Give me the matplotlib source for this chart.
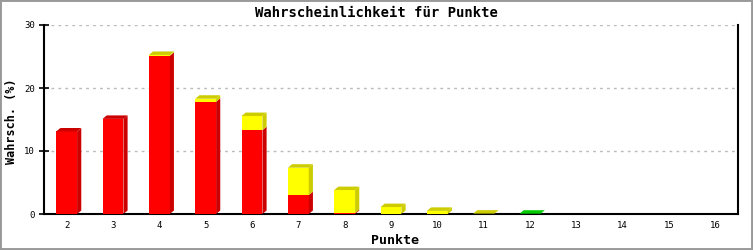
import numpy as np
import matplotlib
matplotlib.use('Agg')
import matplotlib.pyplot as plt
from matplotlib.patches import Polygon, Rectangle

# data
punkte = [2, 3, 4, 5, 6, 7, 8, 9, 10, 11, 12, 13, 14, 15, 16]
rot = [13.1, 15.1, 25.1, 17.8, 13.3, 3.0, 0.15, 0, 0, 0, 0, 0, 0, 0, 0]
gelb = [0, 0, 0.15, 0.5, 2.25, 4.35, 3.65, 1.1, 0.5, 0.06, 0, 0, 0, 0, 0]
gruen = [0, 0, 0, 0, 0, 0, 0, 0, 0, 0, 0.05, 0, 0, 0, 0]

serien = [(rot, '#ff0000', '#cc0000'),
          (gelb, '#ffff00', '#cccc00'),
          (gruen, '#00cc00', '#00cc00')]

mono = 'DejaVu Sans Mono'
fig = plt.figure(figsize=(7.53, 2.5), dpi=100)
ax = fig.add_axes([43.5/753, 36/250, 695/753, 189/250])

breite = 0.45
dx = 0.09   # depth to the right (data units)
dy = 0.55   # depth upward (data units)

x = np.array(punkte, dtype=float)
unten = np.zeros(len(x))
oben_farbe = [None] * len(x)
for werte, farbe, dunkel in serien:
    werte = np.array(werte, dtype=float)
    ax.bar(x, werte, breite, bottom=unten, color=farbe, linewidth=0, zorder=3)
    for i in range(len(x)):
        if werte[i] <= 0:
            continue
        x1 = x[i] + breite / 2
        y0 = unten[i]
        y1 = unten[i] + werte[i]
        ax.add_patch(Polygon([(x1, y0), (x1 + dx, y0 + dy), (x1 + dx, y1 + dy), (x1, y1)],
                             closed=True, facecolor=dunkel, edgecolor='none', zorder=3))
        oben_farbe[i] = dunkel
    unten = unten + werte

for i in range(len(x)):
    if oben_farbe[i] is None:
        continue
    x0 = x[i] - breite / 2
    x1 = x[i] + breite / 2
    y1 = unten[i]
    ax.add_patch(Polygon([(x0, y1), (x0 + dx, y1 + dy), (x1 + dx, y1 + dy), (x1, y1)],
                         closed=True, facecolor=oben_farbe[i], edgecolor='none', zorder=3))

ax.set_xlim(1.5, 16.5)
ax.set_ylim(0, 30)
ax.set_xticks(punkte)
ax.set_xticklabels([str(p) for p in punkte], fontfamily=mono, fontsize=6.5)
ax.set_yticks([0, 10, 20, 30])
ax.set_yticklabels(['0', '10', '20', '30'], fontfamily=mono, fontsize=6.5)
ax.tick_params(axis='x', length=0, pad=5)
ax.tick_params(axis='y', direction='inout', length=6.5, width=1.2, pad=3)
ax.yaxis.grid(True, linestyle=(0, (2, 3)), color='#bbbbbb', linewidth=1)
ax.set_axisbelow(True)

ax.spines['top'].set_visible(False)
for s in ['left', 'right', 'bottom']:
    ax.spines[s].set_linewidth(1.5)
    ax.spines[s].set_color('black')

fig.text(376 / 753, 1 - 13 / 250, 'Wahrscheinlichkeit für Punkte', fontfamily=mono,
         fontweight='bold', fontsize=10, ha='center', va='center')
fig.text(395 / 753, 1 - 240 / 250, 'Punkte', fontfamily=mono, fontweight='bold',
         fontsize=9.5, ha='center', va='center')
fig.text(12 / 753, 1 - 121 / 250, 'Wahrsch. (%)', fontfamily=mono, fontweight='bold',
         fontsize=8.5, ha='center', va='center', rotation=90)

fig.patches.append(Rectangle((0, 0), 1, 1, transform=fig.transFigure, fill=False,
                             edgecolor='#999999', linewidth=2.8, zorder=10))

fig.savefig('out.png', dpi=100, facecolor='white')
